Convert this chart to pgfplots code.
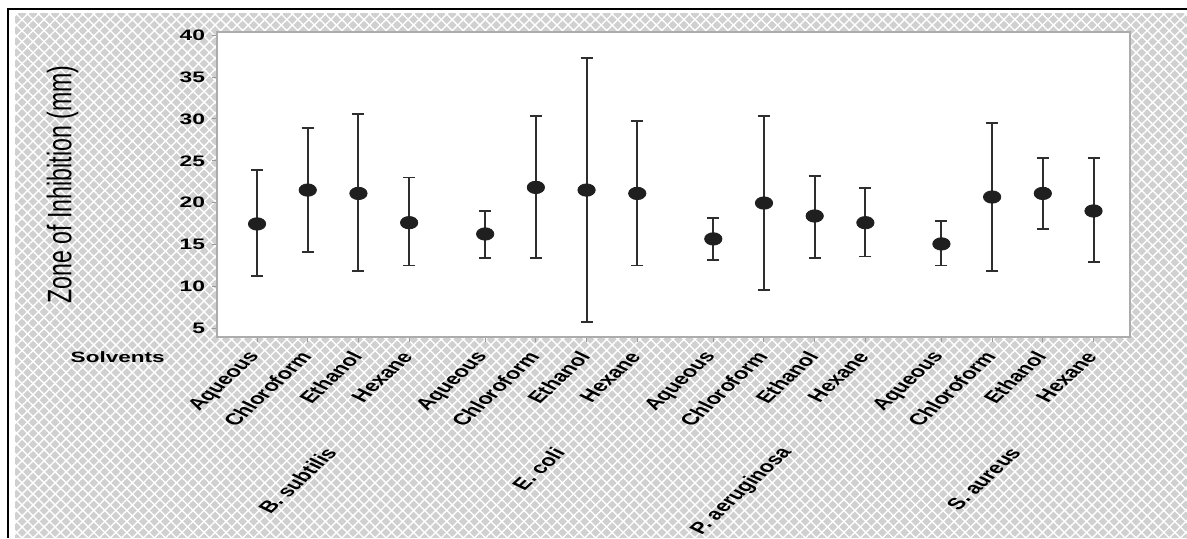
\documentclass[border=0pt]{standalone}
\usepackage{pgfplots}
\pgfplotsset{compat=1.18}
\usepackage{pgfplotstable}
\usepackage{fontspec}
\setmainfont{Liberation Sans}
\newfontfamily\tickfont[FakeStretch=1.5]{Liberation Sans}
\newfontfamily\ylabfont[FakeStretch=0.68]{Liberation Sans}
\usetikzlibrary{patterns.meta}
\definecolor{hatchgray}{HTML}{D0D0D0}
\definecolor{barcol}{HTML}{2E2E2E}

\pgfplotstableread{
x    y      ep     em
0    17.45  6.44   6.21
1    21.50  7.44   7.36
2    21.10  9.50   9.26
3    17.60  5.40   5.13
4.5  16.25  2.75   2.90
5.5  21.82  8.55   8.47
6.5  21.50  15.83  15.79
7.5  21.10  8.64   8.63
9    15.66  2.46   2.55
10   19.95  10.42  10.42
11   18.40  4.81   5.05
12   17.60  4.10   4.05
13.5 15.06  2.70   2.59
14.5 20.67  8.87   8.83
15.5 21.10  4.22   4.21
16.5 19.00  6.32   6.13
}\zonedata

\begin{document}
\begin{tikzpicture}
% background and frame
\fill[white] (0,0) rectangle (593.5pt,269pt);
\fill[hatchgray] (7.5pt,0) rectangle (593.5pt,262.5pt);
\fill[pattern={Lines[angle=45,distance=3.9pt,line width=0.7pt]},pattern color=white] (7.5pt,0) rectangle (593.5pt,262.5pt);
\fill[pattern={Lines[angle=-45,distance=3.9pt,line width=0.7pt]},pattern color=white] (7.5pt,0) rectangle (593.5pt,262.5pt);
\draw[black,line width=1.1pt] (4pt,0) -- (4pt,264.5pt) -- (593.5pt,264.5pt);
\begin{axis}[
  at={(108.5pt,100.5pt)}, anchor=south west,
  scale only axis,
  width=456.5pt, height=152.5pt,
  xmin=-0.79, xmax=17.22,
  ymin=3.93, ymax=40.4,
  clip=false,
  axis background/.style={fill=white},
  axis line style={gray!65, line width=0.8pt},
  tick style={gray!80, line width=0.5pt},
  major tick length=2.5pt,
  tick align=outside,
  xtick pos=bottom, ytick pos=left,
  ytick={5,10,15,20,25,30,35,40},
  /pgf/number format/assume math mode=true,
  yticklabel style={font=\tickfont\bfseries\fontsize{7.6}{8}\selectfont, text=black},
  xtick={0,1,2,3,4.5,5.5,6.5,7.5,9,10,11,12,13.5,14.5,15.5,16.5},
  xticklabels={Aqueous,Chloroform,Ethanol,Hexane,Aqueous,Chloroform,Ethanol,Hexane,Aqueous,Chloroform,Ethanol,Hexane,Aqueous,Chloroform,Ethanol,Hexane},
  xticklabel style={font=\bfseries\fontsize{8}{8.5}\selectfont, text=black, xscale=1.5, rotate=54, anchor=east, inner sep=1pt},
  xticklabel shift=5pt,
  ylabel={Zone of Inhibition (mm)},
  ylabel style={font=\ylabfont\fontsize{17}{18}\selectfont, text=black, at={(axis description cs:-0.169,0.5)}, anchor=center},
]
\addplot[only marks, mark=*, mark size=3.1pt, mark options={fill=black!88, draw=black!88, xscale=1.4},
  error bars/.cd, y dir=both, y explicit,
  error bar style={barcol, line width=1pt},
  error mark options={rotate=90, barcol, mark size=3pt, line width=0.9pt}]
  table[x=x, y=y, y error plus=ep, y error minus=em] {\zonedata};
\node[font=\tickfont\bfseries\fontsize{7.5}{8}\selectfont] at (axis cs:-2.75,1.54) {Solvents};
\node[font=\bfseries\fontsize{8}{8.5}\selectfont, xscale=1.5, rotate=54, anchor=east, inner sep=1pt] at (axis cs:1.5,-9.3) {B. subtilis};
\node[font=\bfseries\fontsize{8}{8.5}\selectfont, xscale=1.5, rotate=54, anchor=east, inner sep=1pt] at (axis cs:6,-9.3) {E. coli};
\node[font=\bfseries\fontsize{8}{8.5}\selectfont, xscale=1.5, rotate=54, anchor=east, inner sep=1pt] at (axis cs:10.5,-9.3) {P. aeruginosa};
\node[font=\bfseries\fontsize{8}{8.5}\selectfont, xscale=1.5, rotate=54, anchor=east, inner sep=1pt] at (axis cs:15,-9.3) {S. aureus};
\end{axis}
\pgfresetboundingbox
\useasboundingbox (0,0) rectangle (593.5pt,269pt);
\end{tikzpicture}
\end{document}
